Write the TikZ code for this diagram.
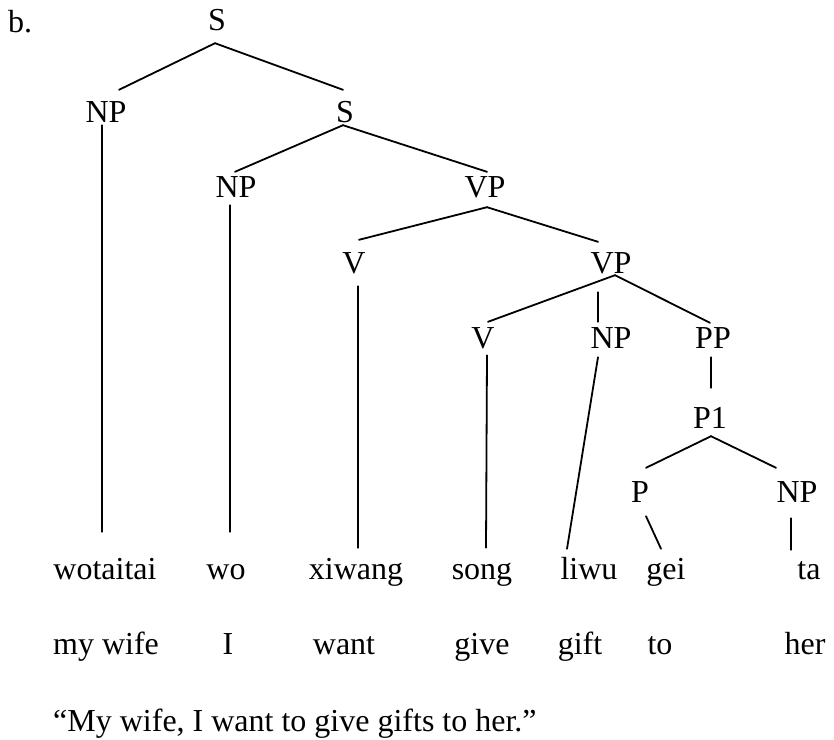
\documentclass[tikz,border=0pt]{standalone}
\usepackage{fontspec}
\setmainfont{Liberation Serif}
\usepackage{tikz}

\begin{document}
\begin{tikzpicture}[x=1pt, y=-1pt,
		cat/.style={inner sep=0pt, anchor=base, text height=21pt, text depth=0pt, font=\fontsize{32}{38}\selectfont},
		word/.style={cat},
		branch/.style={line width=1.8pt, line cap=round}]
		%%%%% START %%%%%
		
		\useasboundingbox (0, 0) rectangle (834, 739);
		
		\node[cat, anchor=base west] (lbl) at (8, 32) {b.};
		
		% categories
		\node[cat] (s1) at (217, 30) {S};
		\node[cat] (np1) at (106, 122) {NP};
		\node[cat] (s2) at (345, 122) {S};
		\node[cat] (np2) at (236, 197) {NP};
		\node[cat] (vp1) at (485, 197) {VP};
		\node[cat] (v1) at (354, 273) {V};
		\node[cat] (vp2) at (611, 273) {VP};
		\node[cat] (v2) at (483, 348) {V};
		\node[cat] (np3) at (611, 348) {NP};
		\node[cat] (pp) at (713, 348) {PP};
		\node[cat] (p1) at (710, 428) {P1};
		\node[cat] (p) at (640, 502) {P};
		\node[cat] (np4) at (797, 502) {NP};
		
		% words
		\node[word] (w1) at (105, 579) {wotaitai};
		\node[word] (w2) at (226, 579) {wo};
		\node[word] (w3) at (356, 579) {xiwang};
		\node[word] (w4) at (482, 579) {song};
		\node[word] (w5) at (589, 579) {liwu};
		\node[word] (w6) at (666, 579) {gei};
		\node[word] (w7) at (809, 579) {ta};
		
		% glosses
		\node[word] (g1) at (106, 654) {my wife};
		\node[word] (g2) at (228, 654) {I};
		\node[word] (g3) at (344, 654) {want};
		\node[word] (g4) at (482, 654) {give};
		\node[word] (g5) at (580, 654) {gift};
		\node[word] (g6) at (660, 654) {to};
		\node[word] (g7) at (805, 654) {her};
		
		\node[word, anchor=base west] (trans) at (53, 731) {“My wife, I want to give gifts to her.”};
		
		% branches
		\draw[branch] ([shift={(-2,13)}]s1.south) -- ([shift={(13,-11)}]np1.north);
		\draw[branch] ([shift={(-2,13)}]s1.south) -- ([shift={(-2,-11)}]s2.north);
		\draw[branch] ([shift={(-4,3)}]np1.south) -- ([shift={(-3,-26)}]w1.north);
		
		\draw[branch] ([shift={(-2,3)}]s2.south) -- ([shift={(-1,-4)}]np2.north);
		\draw[branch] ([shift={(-2,3)}]s2.south) -- ([shift={(2,-4)}]vp1.north);
		\draw[branch] ([shift={(-6,8)}]np2.south) -- ([shift={(4,-26)}]w2.north);
		
		\draw[branch] ([shift={(2,10)}]vp1.south) -- ([shift={(5,-12)}]v1.north);
		\draw[branch] ([shift={(2,10)}]vp1.south) -- ([shift={(-13,-10)}]vp2.north);
		\draw[branch] ([shift={(4,13)}]v1.south) -- ([shift={(2,-10)}]w3.north);
		
		\draw[branch] ([shift={(4,2)}]vp2.south) -- ([shift={(5,-5)}]v2.north);
		\draw[branch] ([shift={(-13,19)}]vp2.south) -- ([shift={(-13,-5)}]np3.north);
		\draw[branch] ([shift={(4,2)}]vp2.south) -- ([shift={(-3,-4)}]pp.north);
		
		\draw[branch] ([shift={(4,7)}]v2.south) -- ([shift={(4,-10)}]w4.north);
		\draw[branch] ([shift={(-13,9)}]np3.south) -- ([shift={(-22,-9)}]w5.north);
		\draw[branch] ([shift={(-2,9)}]pp.south) -- ([shift={(1,-19)}]p1.north);
		
		\draw[branch] ([shift={(1,8)}]p1.south) -- ([shift={(6,-13)}]p.north);
		\draw[branch] ([shift={(1,8)}]p1.south) -- ([shift={(-21,-13)}]np4.north);
		\draw[branch] ([shift={(6,14)}]p.south) -- ([shift={(-5,-9)}]w6.north);
		\draw[branch] ([shift={(-6,16)}]np4.south) -- ([shift={(-18,-8)}]w7.north);
		
		%%%%% END %%%%%
	\end{tikzpicture}
\end{document}
